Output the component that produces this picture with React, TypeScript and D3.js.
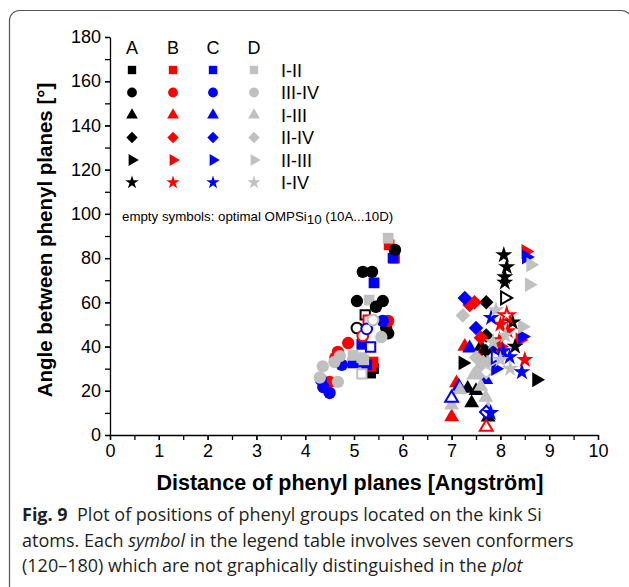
import * as d3 from "d3";
import React, { useRef, useEffect } from "react";

const W = 629;
const H = 587;

const columns = ["A", "B", "C", "D"];
const columnColors = ["#000000", "#ff0000", "#0000ff", "#c0c0c0"];
const pairLabels = ["I-II", "III-IV", "I-III", "II-IV", "II-III", "I-IV"];
const xTicks = [0, 1, 2, 3, 4, 5, 6, 7, 8, 9, 10];
const yTicks = [0, 20, 40, 60, 80, 100, 120, 140, 160, 180];

// [column, distance, angle, empty(1) / filled(0)]
const ptsI_II = [
  ["A", 5.34, 28, 0], ["A", 5.4, 30, 0],
  ["B", 5.72, 86, 0], ["B", 5.83, 80, 0], ["B", 5.39, 33, 0], ["B", 5.35, 31, 0],
  ["C", 5.8, 80, 0], ["C", 5.41, 68.8, 0], ["C", 5.16, 41, 0], ["C", 4.98, 32.6, 0], ["C", 5.26, 31.7, 0], ["C", 5.1, 33, 0],
  ["D", 5.7, 89, 0], ["D", 5.31, 61, 0], ["D", 4.98, 36, 0], ["D", 5.16, 35, 0], ["D", 5.2, 34, 0],
  ["A", 5.23, 54.3, 1], ["B", 5.29, 52, 1], ["C", 5.34, 39.8, 1], ["D", 5.16, 27.6, 1],
];
const ptsIII_IV = [
  ["A", 5.84, 83.7, 0], ["A", 5.18, 73.8, 0], ["A", 5.37, 73.8, 0], ["A", 5.06, 60.6, 0], ["A", 5.59, 60.6, 0], ["A", 5.45, 58, 0], ["A", 5.66, 48.4, 0], ["A", 5.7, 46, 0],
  ["B", 5.7, 51.6, 0], ["B", 4.88, 41.6, 0], ["B", 4.67, 37.6, 0], ["B", 4.5, 24, 0], ["B", 4.62, 35, 0],
  ["C", 5.59, 51.6, 0], ["C", 4.75, 31.7, 0], ["C", 4.32, 25, 0], ["C", 4.37, 21.7, 0], ["C", 4.5, 19, 0],
  ["D", 5.56, 44.3, 0], ["D", 4.71, 35.7, 0], ["D", 4.6, 33, 0], ["D", 4.36, 31, 0], ["D", 4.3, 26, 0], ["D", 4.67, 24, 0],
  ["A", 5.06, 48.4, 1], ["B", 5.18, 44.8, 1], ["C", 5.26, 48, 1], ["D", 5.39, 52, 1],
];
const ptsI_III = [
  ["A", 7.41, 14.5, 0], ["A", 7.33, 21, 0], ["A", 7.75, 8, 0], ["A", 7.6, 40, 0], ["A", 7.5, 20, 0], ["A", 7.65, 30, 0],
  ["B", 7.27, 40, 0], ["B", 7.0, 8.1, 0], ["B", 7.1, 23.5, 0], ["B", 7.6, 36, 0],
  ["C", 7.37, 39.3, 0], ["C", 7.15, 22, 0], ["C", 7.7, 25, 0],
  ["D", 7.17, 20.4, 0], ["D", 7.0, 13.5, 0], ["D", 7.55, 30, 0], ["D", 7.75, 12, 0], ["D", 7.45, 27, 0], ["D", 7.6, 22, 0], ["D", 7.7, 17, 0],
  ["B", 7.71, 3.6, 1], ["C", 7.0, 16.7, 1],
];
const ptsII_IV = [
  ["A", 7.71, 60, 0], ["A", 7.71, 45, 0], ["A", 7.7, 38, 0],
  ["B", 7.47, 60, 0], ["B", 7.37, 58.8, 0], ["B", 7.6, 44, 0],
  ["C", 7.27, 62, 0], ["C", 7.5, 48.4, 0], ["C", 7.9, 40, 0],
  ["D", 7.23, 54, 0], ["D", 7.5, 35, 0], ["D", 7.6, 28, 0], ["D", 7.65, 33, 0],
  ["C", 7.71, 10.4, 1], ["D", 7.71, 28.5, 1],
];
const ptsII_III = [
  ["A", 7.23, 32.6, 0], ["A", 8.74, 25, 0], ["A", 7.95, 38, 0],
  ["B", 8.52, 83, 0], ["B", 8.4, 43, 0], ["B", 8.0, 40, 0],
  ["C", 8.53, 80.5, 0], ["C", 8.45, 44.5, 0], ["C", 7.9, 30, 0],
  ["D", 8.62, 77, 0], ["D", 8.59, 68, 0], ["D", 8.45, 49, 0], ["D", 7.8, 33, 0],
  ["A", 8.09, 62, 1], ["C", 7.9, 35.3, 1],
];
const ptsI_IV = [
  ["A", 8.07, 81.4, 0], ["A", 8.13, 76, 0], ["A", 8.09, 71.5, 0], ["A", 8.09, 69, 0], ["A", 8.25, 51, 0], ["A", 8.3, 40, 0],
  ["B", 8.5, 34, 0], ["B", 7.98, 43, 0], ["B", 8.0, 50, 0], ["B", 8.15, 47, 0],
  ["C", 7.81, 53, 0], ["C", 8.19, 35.3, 0], ["C", 8.44, 28.5, 0], ["C", 7.8, 10, 0], ["C", 8.05, 38, 0],
  ["D", 7.91, 56.5, 0], ["D", 8.1, 45, 0], ["D", 8.2, 30, 0], ["D", 8.0, 34, 0], ["D", 7.85, 42, 0],
  ["B", 8.13, 54, 1],
];

const pairPoints: any[] = [ptsI_II, ptsIII_IV, ptsI_III, ptsII_IV, ptsII_III, ptsI_IV];

// symbol type, size in plot, size in legend, rotation
const shapes: any[] = [
  [d3.symbolSquare, 115, 70, 0],
  [d3.symbolCircle, 120, 75, 0],
  [d3.symbolTriangle, 95, 60, 0],
  [d3.symbolSquare, 105, 65, 45],
  [d3.symbolTriangle, 95, 60, 90],
  [d3.symbolStar, 90, 55, 0],
];

function App() {
  const ref = useRef(null);

  useEffect(() => {
    const svg = d3.select(ref.current);
    svg.selectAll("*").remove();

    const x = d3.scaleLinear().domain([0, 10]).range([110, 598]);
    const y = d3.scaleLinear().domain([0, 180]).range([435, 37]);

    // Frame
    svg
      .append("rect")
      .attr("x", 9.5)
      .attr("y", 10.5)
      .attr("width", 622)
      .attr("height", 586)
      .attr("rx", 10)
      .attr("fill", "none")
      .attr("stroke", "#555")
      .attr("stroke-width", 1.2);

    const font = "'Liberation Sans', Arial, sans-serif";

    // X axis
    const gx = svg.append("g").attr("transform", `translate(0,${y(0)})`);
    gx.call(
      d3.axisBottom(x).tickValues(d3.range(0, 10.01, 0.5)).tickSize(5).tickSizeOuter(0).tickFormat(() => "")
    );
    const gxl = svg.append("g").attr("transform", `translate(0,${y(0)})`);
    gxl.call(d3.axisBottom(x).tickValues(xTicks).tickSize(5).tickSizeOuter(0).tickFormat(d3.format("d")));
    gxl.select(".domain").remove();
    gxl.selectAll("text").attr("font-size", 18).attr("font-family", font).attr("fill", "#000").attr("dy", "0.72em").attr("y", 9);

    // Y axis
    const gy = svg.append("g").attr("transform", `translate(${x(0)},0)`);
    gy.call(d3.axisLeft(y).tickValues(d3.range(0, 181, 10)).tickSize(5).tickSizeOuter(0).tickFormat(() => ""));
    const gyl = svg.append("g").attr("transform", `translate(${x(0)},0)`);
    gyl.call(d3.axisLeft(y).tickValues(yTicks).tickSize(5).tickSizeOuter(0).tickFormat(d3.format("d")));
    gyl.select(".domain").remove();
    gyl.selectAll("text").attr("font-size", 18).attr("font-family", font).attr("fill", "#000").attr("x", -9);
    svg.selectAll(".domain, .tick line").attr("stroke", "#000").attr("stroke-width", 1.3);

    // Axis titles
    svg
      .append("text")
      .attr("x", 350)
      .attr("y", 490)
      .attr("text-anchor", "middle")
      .attr("font-family", font)
      .attr("font-weight", "bold")
      .attr("font-size", 21.5)
      .text("Distance of phenyl planes [Angström]");
    svg
      .append("text")
      .attr("transform", "translate(52,240) rotate(-90)")
      .attr("text-anchor", "middle")
      .attr("font-family", font)
      .attr("font-weight", "bold")
      .attr("font-size", 20.5)
      .text("Angle between phenyl planes [°]");

    // Annotation
    const ann = svg
      .append("text")
      .attr("x", 122)
      .attr("y", 221)
      .attr("font-family", font)
      .attr("font-size", 13.3);
    ann.append("tspan").text("empty symbols: optimal OMPSi");
    ann.append("tspan").attr("dy", 3).text("10");
    ann.append("tspan").attr("dy", -3).text(" (10A...10D)");

    // Points
    const plot = svg.append("g");
    pairPoints.forEach((pts: any[], pi: number) => {
      const [type, size, , rot] = shapes[pi];
      const sorted = pts.filter((p) => !p[3]).concat(pts.filter((p) => p[3]));
      plot
        .selectAll(`.p${pi}`)
        .data(sorted)
        .join("path")
        .attr("class", `p${pi}`)
        .attr("d", (p: any) => d3.symbol().type(type).size(p[3] ? size * 0.75 : size)() as string)
        .attr("transform", (p: any) => `translate(${x(p[1])},${y(p[2])}) rotate(${rot})`)
        .attr("fill", (p: any) => (p[3] ? "#fff" : columnColors[columns.indexOf(p[0])]))
        .attr("stroke", (p: any) => (p[3] ? columnColors[columns.indexOf(p[0])] : "none"))
        .attr("stroke-width", 2);
    });

    // Legend table
    const legX = [132, 173, 213, 254];
    const legY = [70, 92.5, 115, 137.5, 160, 182.5];
    columns.forEach((c, i) => {
      svg
        .append("text")
        .attr("x", legX[i])
        .attr("y", 54)
        .attr("text-anchor", "middle")
        .attr("font-family", font)
        .attr("font-size", 18)
        .text(c);
    });
    pairLabels.forEach((lab, r) => {
      const [type, , lsize, rot] = shapes[r];
      columns.forEach((c, i) => {
        svg
          .append("path")
          .attr("d", d3.symbol().type(type).size(lsize)() as string)
          .attr("transform", `translate(${legX[i]},${legY[r]}) rotate(${rot})`)
          .attr("fill", columnColors[i]);
      });
      svg
        .append("text")
        .attr("x", 281)
        .attr("y", legY[r] + 6.5)
        .attr("font-family", font)
        .attr("font-size", 18)
        .text(lab);
    });

    // Caption
    const capFont = "'Open Sans', 'Noto Sans', sans-serif";
    const capLines = [
      [["Fig. 9", "bold", "normal"], ["  Plot of positions of phenyl groups located on the kink Si", "normal", "normal"]],
      [["atoms. Each ", "normal", "normal"], ["symbol", "normal", "italic"], [" in the legend table involves seven conformers", "normal", "normal"]],
      [["(120–180) which are not graphically distinguished in the ", "normal", "normal"], ["plot", "normal", "italic"]],
    ];
    capLines.forEach((line, li) => {
      const t = svg
        .append("text")
        .attr("x", 22)
        .attr("y", 521 + li * 25.5)
        .attr("font-family", capFont)
        .attr("font-size", 18)
        .attr("fill", "#231f20")
        .attr("xml:space", "preserve")
        .style("white-space", "pre");
      line.forEach((seg) => {
        t.append("tspan").attr("font-weight", seg[1]).attr("font-style", seg[2]).text(seg[0]);
      });
    });
  }, []);

  return (
    <svg
      ref={ref}
      width={W}
      height={H}
      viewBox={`0 0 ${W} ${H}`}
      style={{ position: "absolute", left: 0, top: 0, background: "#fff" }}
    ></svg>
  );
}

export default App;
